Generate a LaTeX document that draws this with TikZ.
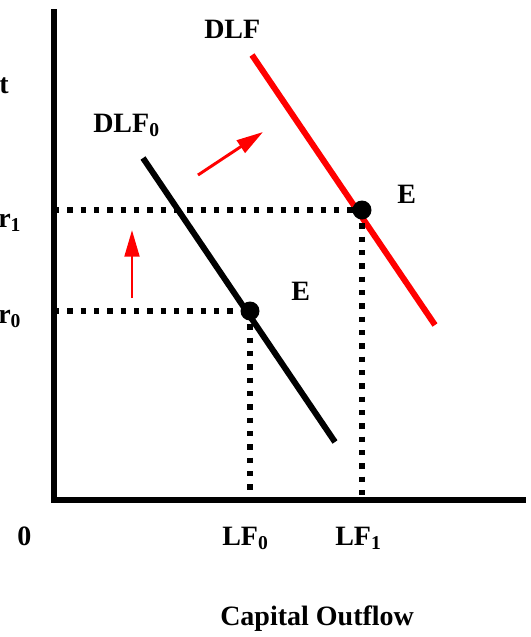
\documentclass[tikz,border=0pt]{standalone}
\usepackage{fontspec}
\setmainfont{Liberation Serif}
\usetikzlibrary{arrows.meta}
\usetikzlibrary{calc,positioning}

\begin{document}
\begin{tikzpicture}[x=0.75pt,y=-0.75pt,
  axis/.style={line width=5pt,line cap=rect},
  schedule/.style={line width=4.5pt},
  guide/.style={line width=4pt,dash pattern=on 4pt off 6pt},
  eqdot/.style={circle,fill=black,inner sep=0,minimum size=14.25pt},
  shiftarrow/.style={-{Triangle[length=20pt,width=11pt]},red,line width=2.2pt},
  lbl/.style={font=\fontsize{21}{24}\selectfont\bfseries,inner sep=0,anchor=base west}]
\useasboundingbox (0,0) rectangle (531,637);
%%%%%%%%%%%%%%%%%%%%%%%%%%%%
%%%%%%%%% Axes. %%%%%%%%%%%%
%%%%%%%%%%%%%%%%%%%%%%%%%%%%
\coordinate (o) at (54,500);
\coordinate (ytop) at (54,12);
\coordinate (xend) at (523,500);
\draw[axis] (ytop) -- (o) -- (xend);
\node[lbl] (zero) at (17,545) {0};
\node[lbl] (rate) at (-1,93) {t};
\node[lbl] (xtitle) at (220,625) {Capital Outflow};
%%%%%%%%%%%%%%%%%%%%%%%%%%%%
%%%%%%%%% Schedules. %%%%%%%
%%%%%%%%%%%%%%%%%%%%%%%%%%%%
\coordinate (dlf0a) at (143,158);
\coordinate (dlf0b) at (335,442);
\coordinate (dlfa) at (252,55);
\coordinate (dlfb) at (435,325);
\draw[schedule] (dlf0a) -- (dlf0b);
\draw[schedule,red] (dlfa) -- (dlfb);
\node[lbl] (dlf0lab) at (93,132) {DLF\textsubscript{0}};
\node[lbl] (dlflab) at (204,38) {DLF};
%%%%%%%%%%%%%%%%%%%%%%%%%%%%
%%%%%%%%% Equilibria. %%%%%%
%%%%%%%%%%%%%%%%%%%%%%%%%%%%
\node[eqdot] (e0) at (250,311) {};
\node[eqdot] (e1) at (362,210) {};
\coordinate (r0) at (o |- e0);
\coordinate (r1) at (o |- e1);
\coordinate (lf0) at (e0 |- o);
\coordinate (lf1) at (e1 |- o);
\draw[guide] (r0) -- (e0.center);
\draw[guide] (r1) -- (e1.center);
\draw[guide] (e0.center) -- (lf0);
\draw[guide] (e1.center) -- (lf1);
\node[lbl] (e0lab) at (291,300) {E};
\node[lbl] (e1lab) at (397,203) {E};
\node[lbl] (r0lab) at (-2,323) {r\textsubscript{0}};
\node[lbl] (r1lab) at (-2,227) {r\textsubscript{1}};
\node[lbl] (lf0lab) at (222,545) {LF\textsubscript{0}};
\node[lbl] (lf1lab) at (335,545) {LF\textsubscript{1}};
%%%%%%%%%%%%%%%%%%%%%%%%%%%%
%%%%%%%%% Shifts. %%%%%%%%%%
%%%%%%%%%%%%%%%%%%%%%%%%%%%%
\coordinate (upa) at (132,298);
\coordinate (upb) at (132,230);
\coordinate (outa) at (198,175);
\coordinate (outb) at (263,132);
\draw[shiftarrow] (upa) -- (upb);
\draw[shiftarrow] (outa) -- (outb);
\end{tikzpicture}
\end{document}
